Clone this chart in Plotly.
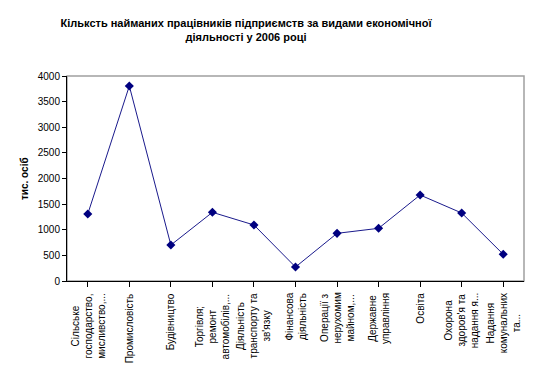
import plotly.graph_objects as go

categories = [
    "Сільське<br>господарство,<br>мисливство,...",
    "Промисловість",
    "Будівництво",
    "Торгівля;<br>ремонт<br>автомобілів,...",
    "Діяльність<br>транспорту та<br>зв'язку",
    "Фінансова<br>діяльність",
    "Операції з<br>нерухомим<br>майном,...",
    "Державне<br>управління",
    "Освіта",
    "Охорона<br>здоров'я та<br>надання я...",
    "Надання<br>комунальних<br>та...",
]
values = [1307, 3805, 702, 1340, 1093, 273, 930, 1028, 1678, 1327, 521]

title_text = "Кільксть найманих працівників підприємств за видами економічної<br>діяльності у 2006 році"
y_title = "тис. осіб"

FONT = "Arial, Liberation Sans, sans-serif"
W, H = 539, 385
L, R, T, B = 66.5, 15, 76, 104
pw = W - L - R

xs = list(range(len(categories)))

fig = go.Figure(go.Scatter(
    x=xs, y=values, mode="lines+markers",
    line=dict(color="#1a1a8c", width=1),
    marker=dict(symbol="diamond", size=7, color="#000080"),
    hoverinfo="y",
))

tick_annotations = [
    dict(text=lab, x=xi, xref="x", y=0, yref="paper", yshift=-11,
         xanchor="center", yanchor="top", textangle=-90, align="center",
         showarrow=False, borderpad=0,
         font=dict(family=FONT, size=10, color="black"))
    for xi, lab in zip(xs, categories)
]

fig.update_layout(
    width=W, height=H,
    margin=dict(l=L, r=R, t=T, b=B, autoexpand=False),
    paper_bgcolor="white", plot_bgcolor="white",
    showlegend=False,
    font=dict(family=FONT, color="black", size=10),
    title=dict(text="<b>" + title_text + "</b>", x=246 / W, xanchor="center",
               y=1 - 27 / H, yanchor="middle", yref="container",
               font=dict(family=FONT, size=11, color="black")),
    xaxis=dict(
        range=[-0.5, len(categories) - 0.5], automargin=False,
        tickmode="array", tickvals=xs, showticklabels=False,
        tickson="boundaries", ticks="outside", ticklen=5,
        tickcolor="black", showline=True, linecolor="black", linewidth=1,
        showgrid=False, zeroline=False,
    ),
    yaxis=dict(
        range=[0, 4000], dtick=500, tick0=0, automargin=False,
        ticks="outside", ticklen=4, tickcolor="black",
        showline=True, linecolor="black", linewidth=1,
        showgrid=False, zeroline=False,
        tickfont=dict(family=FONT, size=10, color="black"),
    ),
    shapes=[dict(type="rect", xref="paper", yref="paper", x0=0, x1=1, y0=0, y1=1,
                 line=dict(color="#a0a0a0", width=1.5), layer="below")],
    annotations=[dict(text="<b>" + y_title + "</b>", xref="paper", yref="paper",
                      x=(24 - L) / pw, y=0.5, textangle=-90, showarrow=False,
                      xanchor="center", yanchor="middle",
                      font=dict(family=FONT, size=10, color="black"))] + tick_annotations,
)

fig.write_html("out.html", config={"displayModeBar": False},
               post_script="document.body.style.margin='0';document.body.style.overflow='hidden';")
